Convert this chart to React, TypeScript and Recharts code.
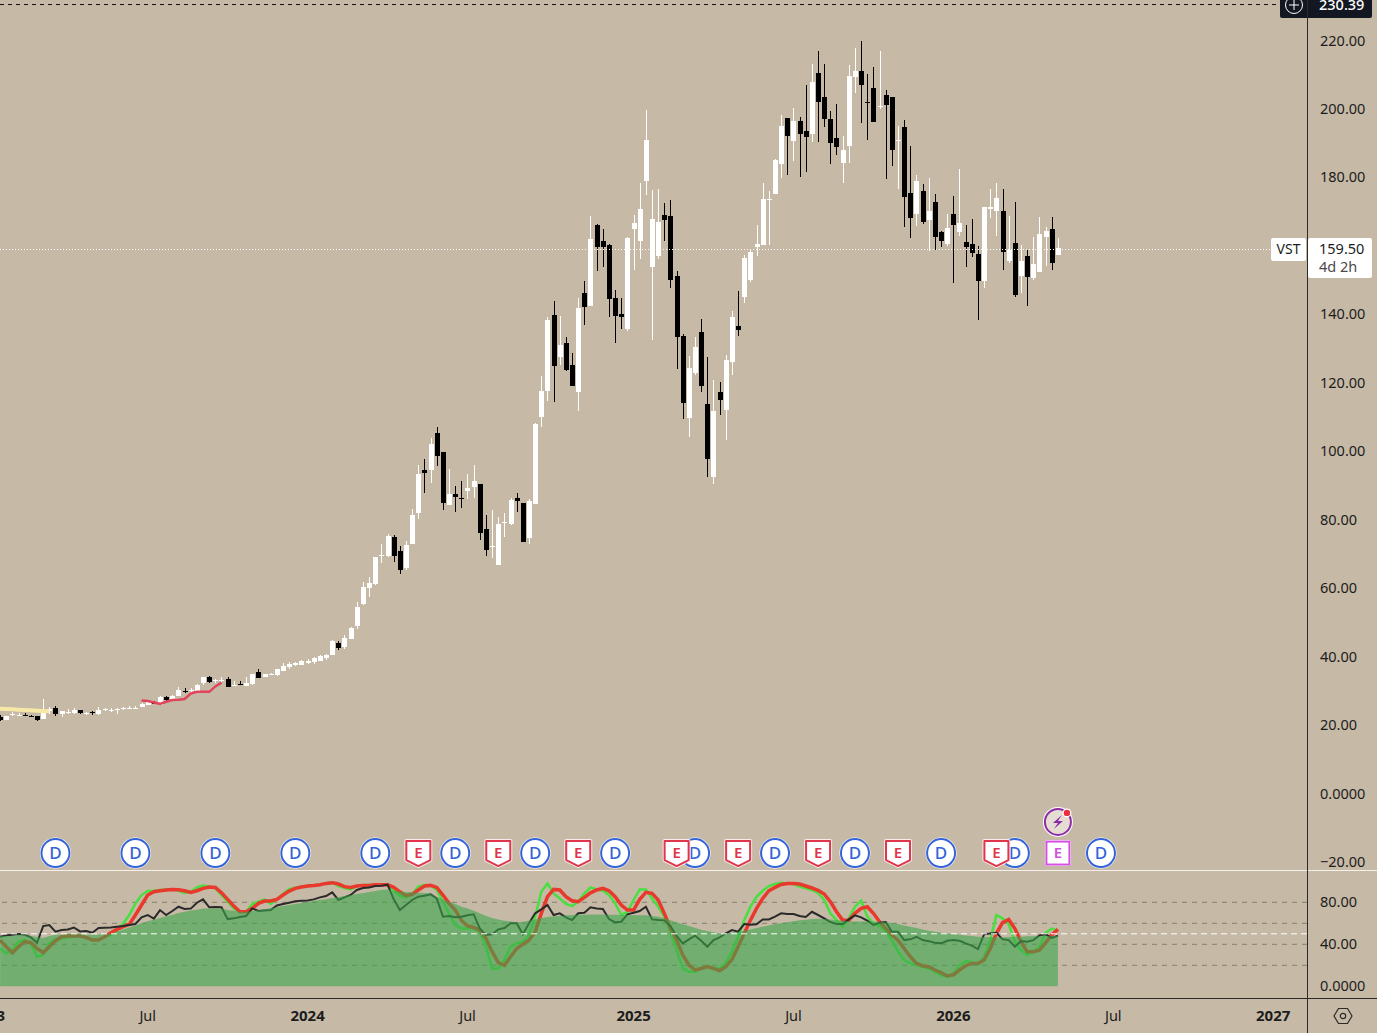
import { ComposedChart, Bar, Line, Area, XAxis, YAxis, ReferenceLine, ReferenceDot } from 'recharts'

// weekly candles, index 0 is the first bar visible at the left edge
const opens = [
  22.5, 21.5, 22.9, 22.9, 23.0, 22.6, 22.6, 21.8, 24.1, 24.9, 23.2, 23.8, 23.6, 24.4, 23.5, 23.7, 23.2, 24.5, 24.3, 24.5,
  24.8, 25.0, 25.0, 25.4, 25.9, 26.8, 25.9, 28.2, 27.7, 28.5, 30.0, 30.1, 30.0, 32.2, 34.1, 33.1, 33.1, 33.5, 31.6, 32.1,
  31.4, 32.0, 35.6, 34.1, 34.6, 34.7, 35.9, 36.7, 37.4, 37.6, 38.0, 38.3, 38.7, 39.5, 40.5, 44.1, 42.9, 45.4, 48.8, 55.2,
  60.0, 61.4, 69.6, 69.5, 75.0, 70.9, 65.8, 72.9, 81.9, 94.5, 94.5, 105.3, 99.8, 84.3, 87.5, 86.3, 88.5, 89.6, 90.4, 77.2,
  72.0, 66.6, 79.0, 78.9, 86.2, 84.8, 74.7, 84.6, 110.1, 117.6, 139.8, 127.6, 131.7, 125.2, 117.3, 146.1, 142.4, 166.0, 161.4, 160.2,
  144.8, 140.1, 135.6, 164.9, 161.5, 179.0, 153.9, 157.0, 169.0, 168.7, 151.2, 133.7, 109.8, 123.0, 134.7, 113.8, 92.6, 117.2, 112.0, 125.9,
  136.6, 145.2, 150.0, 159.8, 160.3, 173.6, 175.2, 183.9, 197.3, 190.8, 196.5, 193.6, 192.7, 210.5, 203.5, 197.1, 191.5, 184.2, 189.3, 209.4,
  211.0, 202.0, 206.1, 200.9, 204.1, 203.5, 190.8, 194.8, 175.4, 169.3, 176.1, 167.6, 172.8, 164.2, 160.6, 169.3, 164.3, 161.2, 160.6, 157.6,
  149.8, 170.7, 170.2, 170.2, 155.6, 160.9, 151.2, 157.1, 150.6, 152.4, 162.6, 164.9, 157.4,
]
const highs = [
  22.9, 22.7, 23.7, 23.4, 23.6, 22.8, 22.7, 27.5, 25.4, 25.6, 24.1, 24.6, 25.0, 24.5, 23.9, 24.0, 25.3, 25.1, 24.9, 25.1,
  25.4, 25.5, 25.5, 26.3, 27.3, 27.0, 28.4, 28.4, 28.8, 31.0, 30.7, 30.7, 32.0, 34.1, 34.4, 33.6, 34.0, 34.0, 32.9, 32.9,
  34.0, 35.0, 36.3, 35.0, 35.1, 36.5, 38.0, 38.4, 38.3, 39.0, 39.3, 39.9, 40.4, 40.7, 44.8, 44.7, 46.2, 48.6, 56.0, 61.9,
  63.2, 69.2, 72.9, 75.8, 75.5, 72.3, 73.7, 83.1, 96.0, 97.7, 104.0, 107.0, 99.8, 94.7, 89.8, 91.3, 93.4, 96.0, 90.4, 81.3,
  82.8, 80.7, 81.9, 86.2, 87.7, 84.8, 86.0, 108.2, 122.0, 139.1, 143.9, 139.5, 133.3, 128.6, 144.7, 149.7, 168.7, 166.4, 164.8, 160.6,
  147.1, 144.7, 162.5, 168.9, 178.3, 199.7, 176.3, 176.5, 172.4, 173.4, 152.8, 134.2, 127.8, 133.3, 138.6, 127.4, 120.8, 120.1, 128.1, 141.0,
  146.8, 157.3, 159.1, 166.1, 178.3, 176.1, 185.3, 198.3, 197.3, 200.2, 197.6, 207.0, 213.2, 216.9, 213.2, 199.4, 201.5, 192.1, 212.9, 217.8,
  219.9, 210.1, 212.2, 217.0, 205.6, 203.5, 195.0, 196.8, 189.2, 180.7, 178.1, 179.9, 175.2, 164.4, 169.3, 174.6, 182.4, 166.1, 167.9, 160.0,
  171.5, 176.6, 178.5, 176.6, 168.8, 172.7, 160.3, 158.8, 162.6, 168.5, 165.5, 168.5, 162.4,
]
const lows = [
  21.1, 21.4, 22.4, 22.6, 22.8, 22.1, 21.2, 21.7, 23.4, 22.8, 22.3, 23.2, 23.3, 23.4, 22.9, 22.8, 23.1, 24.2, 23.8, 23.4,
  24.4, 24.7, 24.8, 25.3, 25.7, 26.0, 25.8, 27.0, 27.4, 28.3, 29.3, 29.3, 29.8, 31.8, 32.4, 32.4, 32.4, 31.2, 31.4, 31.8,
  31.4, 31.9, 33.6, 34.0, 34.4, 34.5, 35.7, 36.4, 37.2, 37.4, 37.9, 38.0, 38.6, 38.9, 40.4, 42.2, 42.2, 45.3, 48.2, 55.2,
  57.3, 60.9, 67.3, 69.0, 67.6, 64.1, 65.3, 72.9, 80.3, 87.9, 90.8, 95.5, 82.8, 84.3, 82.2, 83.4, 86.2, 86.5, 73.9, 69.2,
  68.8, 66.6, 74.9, 78.4, 82.2, 73.3, 72.9, 84.6, 107.2, 114.7, 114.5, 125.2, 123.3, 119.1, 111.6, 136.9, 142.4, 152.7, 153.6, 139.3,
  131.7, 135.7, 134.9, 152.8, 156.1, 174.9, 132.5, 156.1, 161.2, 147.8, 124.1, 109.3, 104.1, 122.3, 117.4, 92.3, 90.4, 110.6, 103.3, 122.3,
  133.7, 143.2, 149.6, 157.0, 160.3, 160.3, 175.2, 179.9, 180.5, 184.8, 180.2, 181.7, 190.5, 190.2, 194.9, 183.9, 186.6, 178.5, 184.4, 204.6,
  196.0, 190.7, 196.0, 200.1, 179.6, 183.4, 176.5, 165.6, 162.3, 165.8, 166.4, 158.5, 158.8, 159.8, 160.0, 149.3, 162.9, 153.9, 156.9, 138.4,
  147.9, 168.1, 162.9, 153.0, 155.1, 144.9, 146.4, 142.5, 149.9, 152.4, 154.1, 153.0, 157.4,
]
const closes = [
  21.5, 22.6, 23.1, 23.0, 22.9, 22.3, 21.3, 24.2, 24.7, 23.2, 24.0, 23.9, 24.4, 23.5, 23.6, 23.3, 24.4, 24.6, 24.4, 24.6,
  24.9, 25.1, 25.1, 26.2, 26.8, 26.2, 28.1, 27.3, 28.5, 30.2, 29.9, 30.2, 31.7, 33.9, 32.6, 33.2, 33.2, 31.2, 31.7, 32.0,
  32.2, 34.9, 33.9, 34.9, 34.8, 36.4, 37.3, 37.7, 38.1, 38.7, 38.6, 39.5, 40.2, 40.5, 44.6, 42.7, 45.4, 48.5, 54.4, 60.2,
  61.6, 69.2, 69.7, 75.3, 69.4, 65.3, 72.6, 81.4, 93.4, 93.7, 102.1, 98.7, 85.0, 87.5, 86.7, 86.2, 89.3, 91.3, 76.2, 71.0,
  72.2, 78.6, 79.2, 85.8, 85.3, 73.5, 85.4, 108.0, 117.6, 138.4, 125.0, 131.0, 123.7, 119.1, 141.8, 142.0, 162.0, 159.5, 159.7, 144.5,
  139.6, 139.2, 162.2, 166.6, 170.8, 190.9, 167.9, 167.0, 167.4, 150.0, 133.5, 114.2, 124.3, 130.5, 118.9, 97.7, 111.8, 115.0, 126.7, 139.1,
  135.4, 156.6, 158.1, 160.6, 173.7, 173.7, 185.1, 195.0, 191.9, 196.5, 192.7, 191.9, 207.9, 201.9, 197.2, 190.2, 189.0, 188.0, 209.7, 211.1,
  207.0, 201.8, 196.3, 201.0, 201.2, 188.0, 190.9, 174.4, 168.2, 179.0, 166.9, 170.2, 162.7, 161.5, 165.2, 166.1, 166.8, 159.7, 157.9, 149.6,
  171.5, 171.4, 174.0, 158.3, 158.8, 145.7, 155.6, 150.9, 154.7, 163.5, 164.4, 155.0, 159.5,
]

// the two short overlays on the price pane, indexed like the candles
const yellowWeeks = [-2, -1, 0, 1, 2, 3, 4, 5, 6, 7, 8]
const yellowValues = [25.0, 24.9, 24.8, 24.7, 24.6, 24.5, 24.4, 24.3, 24.2, 24.1, 24.0]
const redWeeks = [23, 24, 25, 26, 27, 28, 29, 30, 31, 32, 33, 34, 35, 36]
const redValues = [27.2, 27.0, 26.6, 26.2, 26.8, 27.3, 27.4, 27.6, 29.2, 29.7, 29.7, 29.7, 31.3, 32.4]

// lower pane
const oscArea = [
  48, 48, 48, 49, 49, 48, 47, 46, 48, 49, 49, 50, 50, 50, 49, 49, 49, 50, 50, 52,
  54, 56, 58, 60, 62, 63.5, 65, 66.6, 68, 69.8, 71, 72.3, 73, 74, 74.2, 74.2, 74, 72.6, 72, 71,
  70.7, 71.7, 72.6, 73.3, 74.5, 75.5, 76.4, 77.4, 78.4, 79.3, 80.3, 81.2, 82.2, 83, 84, 85, 86, 87, 87.9, 88.8,
  89.8, 90.7, 91.7, 92.3, 91, 90.4, 89.8, 89.5, 89, 88.8, 88.5, 85, 83, 80.6, 78.4, 75.8, 74.2, 72, 69.5, 67,
  65, 63.7, 62.5, 61.8, 61, 61.5, 62.5, 63.7, 65, 66, 66.6, 67, 67.6, 68, 68.2, 68.2, 68.5, 68.5, 68.5, 68.2,
  68.2, 68, 68, 67.6, 67.6, 67.6, 66.9, 66.3, 65, 63, 61, 59, 57.4, 55.5, 53.9, 52.6, 51.4, 50.4, 50.4, 51,
  52, 53, 54, 55.5, 56.8, 58, 59.3, 60, 61, 62, 62.8, 63.4, 64, 64.4, 64, 63.7, 63, 62.5, 62, 61.8,
  61.8, 61.8, 61.5, 61.5, 61, 60.3, 59.3, 58, 56.8, 55.5, 54.2, 53, 52, 51, 50.4, 49.8, 49, 48.5, 47.9, 47.2,
  46.9, 46.6, 46.6, 46.6, 46.9, 47.2, 47.2, 47.6, 47.6, 47.9, 47.9, 47.9, 47.9,
]
const oscFast = [
  36, 31.4, 34.5, 42.5, 44, 40.9, 28.2, 29.8, 40.9, 44.7, 45.6, 46.6, 47.2, 48.8, 45.6, 44, 44, 47.2, 48.8, 53,
  59.9, 67.9, 79, 86.9, 90.7, 91, 91.7, 92.3, 92.3, 91, 89, 90, 94.2, 96, 94.9, 93.3, 86.9, 80.6, 74.2, 71,
  71, 78.4, 80.6, 82.8, 78.4, 82.8, 87.9, 92.6, 93.9, 94.9, 95.5, 96, 96.8, 98, 99, 95.5, 93.6, 92.3, 95.5, 96.4,
  96.4, 96.8, 97, 97.4, 91, 86, 84.7, 87.9, 94.9, 96.4, 96, 91.7, 80.6, 69.5, 58.4, 55, 55, 55, 52, 37.7,
  17, 17, 25, 37.7, 40.9, 42.5, 48.8, 66.3, 90, 98, 88.5, 83.7, 78.4, 76.4, 80.6, 88.5, 94.2, 92.3, 91, 86.9,
  79, 67.9, 71, 82.2, 92.3, 92.3, 83.7, 75.8, 66.3, 52, 34.5, 17, 13.9, 13.9, 17, 19.3, 17, 17, 22.5, 33,
  47.2, 63, 75.8, 85.3, 91, 95.5, 97.4, 98.7, 98, 97.4, 94.9, 93.3, 91.7, 89, 82.2, 69.5, 63, 56.8, 64.7, 75.8,
  81.5, 66.3, 59.9, 57.4, 52, 44, 33, 25, 21.8, 20, 18.7, 17, 13.9, 10.7, 9, 12.3, 20, 24, 23, 21,
  28, 44, 67.9, 64.7, 59.3, 42.5, 34.5, 29.8, 33, 37.7, 51, 55, 53,
]
const oscSlow = [
  44, 37.7, 32, 37.7, 42.5, 41.5, 36, 32, 37.7, 43.4, 47.2, 47.9, 47.9, 47.9, 46.6, 44, 44, 47.2, 51, 54.2,
  56.8, 59, 67.9, 77.4, 86.9, 90, 91, 91.7, 92.3, 92, 91, 89.5, 91, 93.3, 94.5, 94.2, 89, 82.8, 76.4, 71,
  71, 74.2, 79, 81.2, 81.2, 82.8, 86.9, 90.7, 93.3, 94.5, 95.5, 96, 96.8, 98, 98.7, 97.4, 94.9, 94.2, 95.5, 96.1,
  96.1, 96.8, 96.8, 96.8, 94.2, 90, 86.3, 87.6, 91.7, 95.5, 96.1, 94.2, 86.9, 79, 72.6, 63, 57.4, 56, 53.6, 45.6,
  33, 22.5, 20, 28.2, 36, 40, 44, 52, 69.5, 85.3, 92.3, 91.7, 85.3, 81.5, 80.6, 84.7, 89, 91.7, 93.3, 91,
  85.3, 77.4, 72.6, 72.6, 82.8, 89.5, 88.5, 82.2, 69.5, 55, 44, 29.8, 20.3, 15.5, 17, 18.7, 17, 14.8, 18.7, 25.6,
  37.7, 50.4, 63, 74.2, 83.7, 91, 94.2, 97, 98, 98, 97.4, 95.5, 93.6, 91.4, 87.9, 80.6, 71, 63, 63, 69.5,
  74.2, 75.8, 69.5, 61.5, 55, 48.8, 44, 36, 28.2, 21.8, 19.6, 18.7, 15.5, 13, 9.8, 11, 15.5, 19.6, 21.8, 21.8,
  25, 36, 50.4, 60.6, 63.7, 55, 42.5, 33, 33, 34.5, 41.5, 48.8, 54.2,
]
const oscBlack = [
  47.2, 48.5, 49.1, 49.8, 49.1, 46.6, 41.5, 57.4, 58.4, 52, 53.6, 54.2, 56, 52.3, 52.6, 51, 55.5, 55.8, 56, 56.8,
  57.4, 58.4, 59.3, 65.7, 67.9, 64.4, 72.6, 67.9, 71.7, 75.8, 73.6, 74, 79.6, 82.8, 75.2, 75.5, 75.2, 64, 64.7, 66,
  66.9, 74.2, 71.7, 72.3, 72.6, 77, 78.4, 79.6, 80.9, 81.5, 81.8, 82.8, 84.7, 86, 89.5, 82.2, 84.7, 87, 91.7, 93.6,
  94.2, 95.5, 95.8, 96.8, 82.8, 72.6, 77.4, 82.2, 85.3, 86.3, 87.6, 83.7, 66.3, 66.9, 65.7, 66.3, 67.6, 68.5, 55, 48.8,
  49.5, 54.2, 55.5, 60, 60, 49.5, 60, 69.5, 73.3, 77.4, 67.9, 69.5, 65.7, 63.1, 69.5, 70, 75.2, 74.2, 73.6, 64,
  60.9, 61.5, 68.5, 70, 71.7, 75.8, 63.7, 63.1, 62.8, 57.4, 47.9, 40.9, 44.7, 48.2, 43.4, 37.7, 44, 46.6, 50.4, 53.6,
  52, 59.3, 58.7, 59, 63.7, 63.7, 66.3, 69.5, 68.8, 68.8, 66.9, 66, 71, 67.9, 64.7, 61.2, 59.3, 59.3, 63.7, 67.6,
  65.7, 62.5, 58.4, 60.6, 61.2, 52, 52, 44, 44.7, 47.2, 44, 43, 41.5, 40.9, 43.4, 44, 43.4, 40.9, 38.7, 35.5,
  49.5, 50.4, 51, 44.7, 44, 37.7, 43, 42.5, 44, 48.5, 49.5, 46, 48.2,
]

// events above the lower pane, by week
const dividendWeeks = [9, 22, 35, 48, 61, 74, 87, 100, 113, 126, 139, 153, 165, 179]
const earningsWeeks = [68, 81, 94, 110, 120, 133, 146, 162]
const nextEarningsWeek = 172
const eventLevel = -17.4
const flashLevel = -8.3

const priceTicks = [220, 200, 180, 140, 120, 100, 80, 60, 40, 20, 0, -20]
const oscTicks = [80, 40, 0]
const oscGuides = [80, 60, 40, 20]
const lastPrice = 159.5
const highPrice = 230.39
const timeTicks = [-2, 24, 50, 76, 103, 129, 155, 181, 207]
const timeLabels = ['2023', 'Jul', '2024', 'Jul', '2025', 'Jul', '2026', 'Jul', '2027']

const weekSlots = Array.from({ length: 215 }, (_, k) => k - 2)
const rows = weekSlots.map((week) => ({
  week,
  open: opens[week],
  high: highs[week],
  low: lows[week],
  close: closes[week],
  range: highs[week] === undefined ? undefined : [lows[week], highs[week]],
  yellow: yellowWeeks.includes(week) ? yellowValues[yellowWeeks.indexOf(week)] : undefined,
  red: redWeeks.includes(week) ? redValues[redWeeks.indexOf(week)] : undefined,
  area: oscArea[week],
  fast: oscFast[week],
  slow: oscSlow[week],
  black: oscBlack[week],
}))

const BG = '#c6b9a6'
const TEXT = '#1c1c1c'
const FONT = '"Noto Sans", sans-serif'

const formatPrice = (v: number) => {
  if (v === 0) return '0.0000'
  return v < 0 ? '\u2212' + Math.abs(v).toFixed(2) : v.toFixed(2)
}

function Candle(props: any) {
  const { x, y, width, height, payload } = props
  if (payload.high === undefined) return null
  const up = payload.close >= payload.open
  const color = up ? '#ffffff' : '#000000'
  const pxPerUnit = Math.abs(height) / (payload.high - payload.low)
  const top = Math.min(y, y + height)
  const bodyTop = top + (payload.high - Math.max(payload.open, payload.close)) * pxPerUnit
  const bodyHeight = Math.abs(payload.open - payload.close) * pxPerUnit
  const cx = Math.round(x + width / 2 - 0.5)
  return (
    <g shapeRendering="crispEdges">
      <rect x={cx} y={Math.round(top)} width={1} height={Math.max(1, Math.round(Math.abs(height)))} fill={color} />
      <rect x={cx - 2} y={Math.round(bodyTop)} width={5} height={Math.max(1, Math.round(bodyHeight))} fill={color} />
    </g>
  )
}

function PriceTick({ x, y, payload, digits }: any) {
  return (
    <text x={x} y={y} dy={5} fontFamily={FONT} fontSize={14.5} fill={TEXT} textAnchor="start">
      {digits ? digits(payload.value) : payload.value}
    </text>
  )
}

function TimeTick({ x, y, payload }: any) {
  const label = timeLabels[timeTicks.indexOf(payload.value)]
  const isYear = label !== 'Jul'
  return (
    <text x={x} y={y + 15} fontFamily={FONT} fontSize={isYear ? 15 : 14.5} fontWeight={isYear ? 700 : 400} fill={TEXT} textAnchor="middle">
      {label}
    </text>
  )
}

function DividendMark({ cx, cy }: any) {
  return (
    <g>
      <circle cx={cx} cy={cy} r={15.5} fill="#ffffff" />
      <circle cx={cx} cy={cy} r={14} fill="#ffffff" stroke="#3563d8" strokeWidth={2} />
      <text x={cx} y={cy + 6} textAnchor="middle" fontFamily={FONT} fontSize={17} fontWeight={500} fill="#3563d8">D</text>
    </g>
  )
}

function EarningsMark({ cx, cy }: any) {
  const d = `M${cx - 12} ${cy - 12} H${cx + 12} V${cy + 7} L${cx} ${cy + 13} L${cx - 12} ${cy + 7} Z`
  return (
    <g>
      <path d={d} fill="#ffffff" stroke="#f7eded" strokeWidth={4} strokeLinejoin="round" />
      <path d={d} fill="#ffffff" stroke="#e0364c" strokeWidth={2} strokeLinejoin="round" />
      <text x={cx} y={cy + 5} textAnchor="middle" fontFamily={FONT} fontSize={15} fontWeight={600} fill="#e0364c">E</text>
    </g>
  )
}

function NextEarningsMark({ cx, cy }: any) {
  return (
    <g>
      <rect x={cx - 13} y={cy - 13} width={26} height={26} rx={2} fill="#ffffff" />
      <rect x={cx - 11.5} y={cy - 11.5} width={23} height={23} fill="#ffffff" stroke="#d54fe0" strokeWidth={2} />
      <text x={cx} y={cy + 5} textAnchor="middle" fontFamily={FONT} fontSize={15} fontWeight={600} fill="#d54fe0">E</text>
    </g>
  )
}

function FlashMark({ cx, cy }: any) {
  return (
    <g>
      <circle cx={cx} cy={cy} r={15} fill="#ffffff" />
      <circle cx={cx} cy={cy} r={13} fill="#e6ddd2" stroke="#8e2ca8" strokeWidth={2} />
      <path d={`M${cx + 4} ${cy - 7} L${cx - 5} ${cy + 1} H${cx} L${cx - 4} ${cy + 7} L${cx + 5} ${cy - 1} H${cx} Z`} fill="#8e2ca8" />
      <circle cx={cx + 9} cy={cy - 9} r={4.5} fill="#ffffff" />
      <circle cx={cx + 9} cy={cy - 9} r={3.2} fill="#ee2e3c" />
    </g>
  )
}

// ReferenceLine hands over its ends right to left when the axis sits on the right
function HighLine({ y1 }: any) {
  return (
    <g fontFamily={FONT} fontSize={14.5}>
      <line x1={0} x2={1280} y1={y1} y2={y1} stroke="#111111" strokeDasharray="4 4" shapeRendering="crispEdges" />
      <rect x={1280} y={-4} width={92} height={22} rx={2} fill="#131722" />
      <circle cx={1294} cy={y1} r={8.5} fill="none" stroke="#ffffff" strokeWidth={1} />
      <path d={`M1289 ${y1} H1299 M1294 ${y1 - 5} V${y1 + 5}`} stroke="#ffffff" strokeWidth={1} />
      <text x={1319} y={y1 + 5} fill="#ffffff" fontWeight={500}>{highPrice.toFixed(2)}</text>
    </g>
  )
}

function LastLine({ y1 }: any) {
  const y = Math.round(y1) + 1
  return (
    <g fontFamily={FONT} fontSize={14.5}>
      <line x1={0} x2={1272} y1={y} y2={y} stroke="#ffffff" strokeDasharray="1 2" shapeRendering="crispEdges" />
      <rect x={1271} y={y - 11} width={35} height={23} rx={2} fill="#ffffff" />
      <text x={1288.5} y={y + 5} textAnchor="middle" fill={TEXT} fontSize={14}>VST</text>
      <rect x={1308} y={y - 11} width={64} height={40} rx={2} fill="#ffffff" />
      <text x={1319} y={y + 5} fill={TEXT}>{lastPrice.toFixed(2)}</text>
      <text x={1319} y={y + 23} fill="#4a4a4a">4d 2h</text>
    </g>
  )
}

export default function App() {
  return (
    <div style={{ position: 'absolute', left: 0, top: 0, width: 1377, height: 1033, overflow: 'hidden', background: BG }}>
      <div style={{ position: 'absolute', left: 0, top: 0 }}>
        <ComposedChart width={1377} height={870} data={rows} margin={{ top: 0, right: 0, bottom: 0, left: -15.25 }}>
          <XAxis dataKey="week" hide />
          <YAxis
            orientation="right"
            width={70}
            domain={[-22.35, 231.85]}
            allowDataOverflow
            ticks={priceTicks}
            interval={0}
            axisLine={false}
            tickLine={false}
            tick={<PriceTick digits={formatPrice} />}
            tickSize={0}
            tickMargin={13}
          />
          <Bar dataKey="range" barSize={5} shape={<Candle />} isAnimationActive={false} />
          <Line dataKey="yellow" stroke="#f6e9a8" strokeWidth={4} dot={false} activeDot={false} isAnimationActive={false} />
          <Line dataKey="red" stroke="#e0455c" strokeWidth={2.5} dot={false} activeDot={false} isAnimationActive={false} />
          <ReferenceLine y={highPrice} shape={<HighLine />} ifOverflow="visible" />
          <ReferenceLine y={lastPrice} shape={<LastLine />} ifOverflow="visible" />
          {dividendWeeks.map((w) => (
            <ReferenceDot key={'d' + w} x={w} y={eventLevel} shape={<DividendMark />} ifOverflow="visible" />
          ))}
          {earningsWeeks.map((w) => (
            <ReferenceDot key={'e' + w} x={w} y={eventLevel} shape={<EarningsMark />} ifOverflow="visible" />
          ))}
          <ReferenceDot x={nextEarningsWeek} y={eventLevel} shape={<NextEarningsMark />} ifOverflow="visible" />
          <ReferenceDot x={nextEarningsWeek} y={flashLevel} shape={<FlashMark />} ifOverflow="visible" />
        </ComposedChart>
      </div>

      <div style={{ position: 'absolute', left: 0, top: 870, width: 1377, height: 1, background: '#f4f1ec' }} />

      <div style={{ position: 'absolute', left: 0, top: 871 }}>
        <ComposedChart width={1377} height={162} data={rows} margin={{ top: 0, right: 0, bottom: 0, left: -15.25 }}>
          <XAxis
            dataKey="week"
            scale="band"
            height={35}
            ticks={timeTicks}
            interval={0}
            axisLine={false}
            tickLine={false}
            tick={<TimeTick />}
          />
          <YAxis
            orientation="right"
            width={70}
            domain={[-11.14, 109.81]}
            allowDataOverflow
            ticks={oscTicks}
            interval={0}
            axisLine={false}
            tickLine={false}
            tick={<PriceTick digits={formatPrice} />}
            tickSize={0}
            tickMargin={13}
          />
          {oscGuides.map((g) => (
            <ReferenceLine key={g} y={g} stroke="#85806f" strokeDasharray="5 5" />
          ))}
          <Line dataKey="fast" stroke="#46e03f" strokeWidth={2.5} dot={false} activeDot={false} isAnimationActive={false} />
          <Line dataKey="slow" stroke="#e8392c" strokeWidth={3.5} dot={false} activeDot={false} isAnimationActive={false} />
          <Line dataKey="black" stroke="#2a2a2a" strokeWidth={2} dot={false} activeDot={false} isAnimationActive={false} />
          <Area
            dataKey="area"
            stroke="none"
            fill="#3ba74b"
            fillOpacity={0.6}
            zIndex={450}
            isAnimationActive={false}
          />
          <ReferenceLine y={50} stroke="#ffffff" strokeDasharray="6 4" zIndex={500} />
        </ComposedChart>
      </div>

      <div style={{ position: 'absolute', left: 0, top: 998, width: 1377, height: 1, background: '#2b2b2b' }} />
      <div style={{ position: 'absolute', left: 1307, top: 0, width: 1, height: 1033, background: '#2b2b2b' }} />
      <svg style={{ position: 'absolute', left: 1333, top: 1006 }} width={20} height={20} viewBox="0 0 20 20">
        <path d="M5.5 2.5 H14.5 L19 10 L14.5 17.5 H5.5 L1 10 Z" fill="none" stroke="#2b2b2b" strokeWidth={1.2} />
        <circle cx={10} cy={10} r={2.7} fill="none" stroke="#2b2b2b" strokeWidth={1.2} />
      </svg>
    </div>
  )
}
